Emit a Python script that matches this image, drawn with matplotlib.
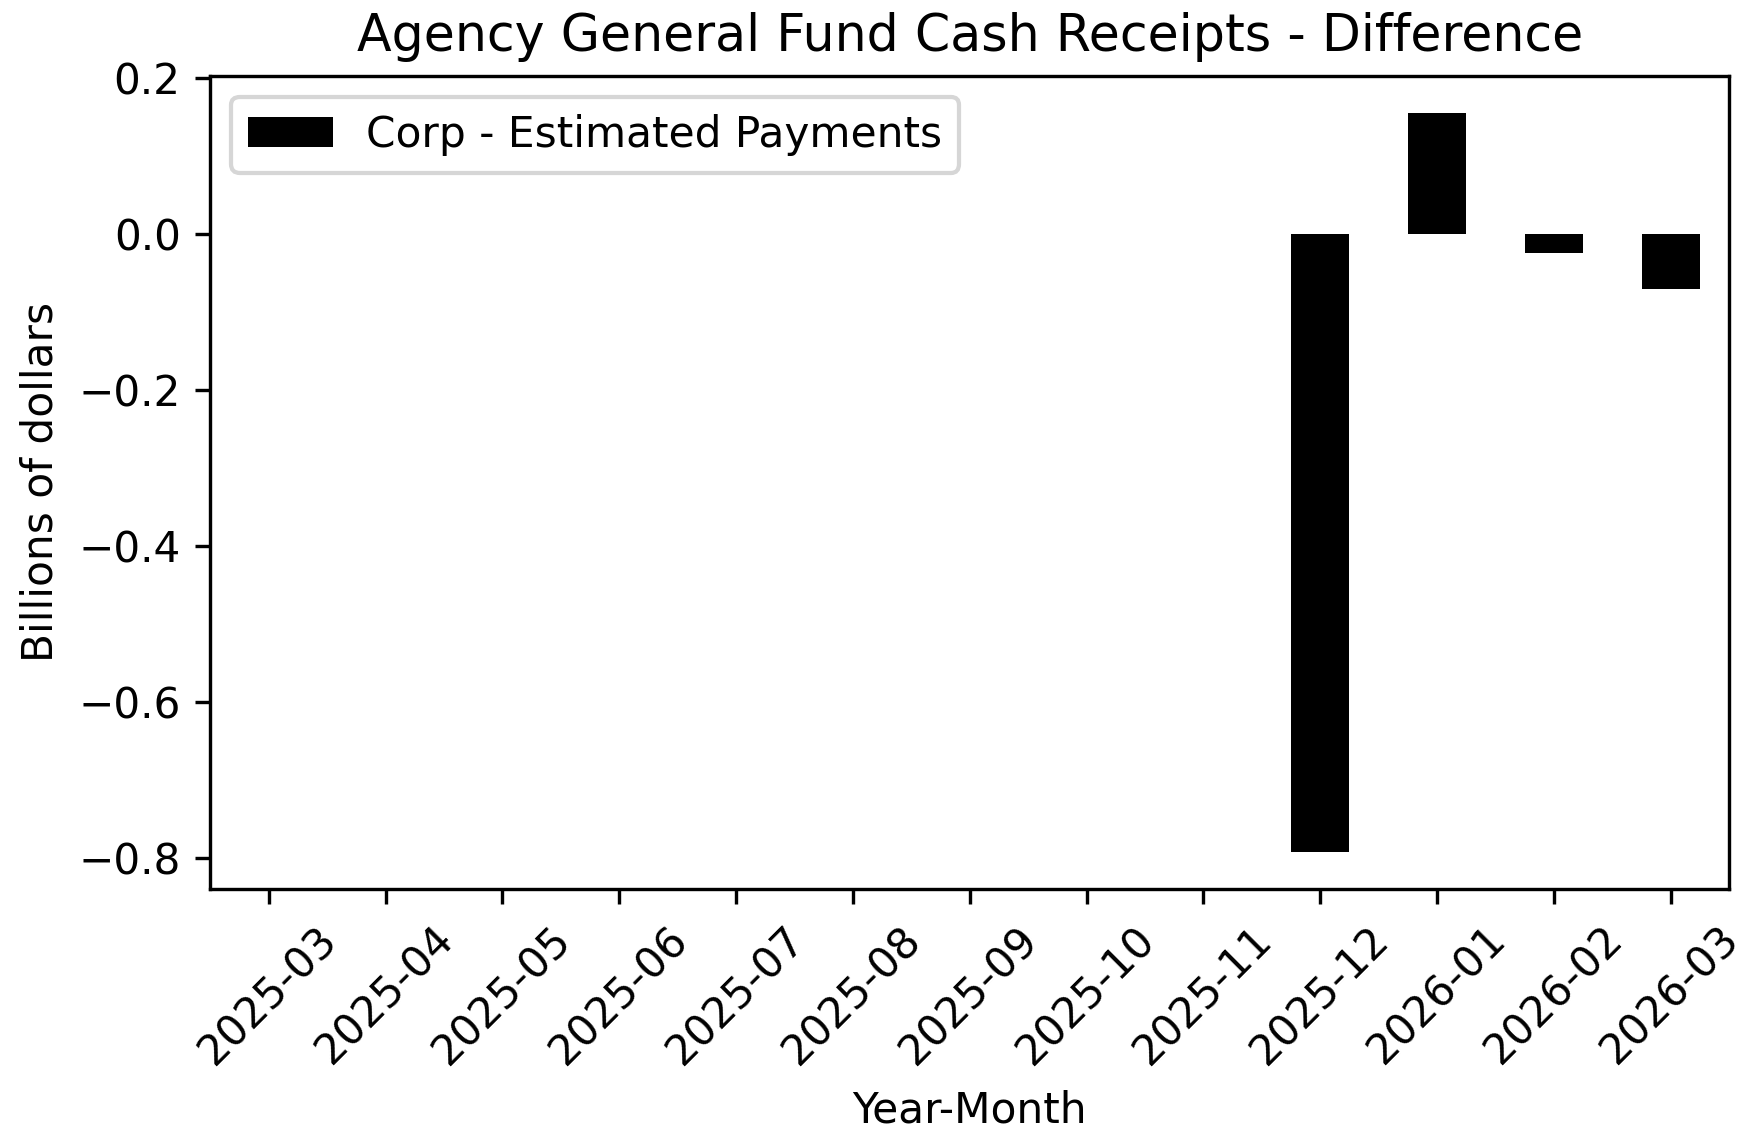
import matplotlib
matplotlib.use("Agg")
import matplotlib.pyplot as plt
import pandas as pd

months = ["2025-03", "2025-04", "2025-05", "2025-06", "2025-07", "2025-08", "2025-09",
          "2025-10", "2025-11", "2025-12", "2026-01", "2026-02", "2026-03"]
corp_estimated = [0.0, 0.0, 0.0, 0.0, 0.0, 0.0, 0.0, 0.0, 0.0, -0.7915, 0.156, -0.0235, -0.0706]

df = pd.DataFrame({"Corp - Estimated Payments": corp_estimated}, index=months)

DPI = 304
fig, ax = plt.subplots(figsize=(1752 / DPI, 1132 / DPI), dpi=DPI)
df.plot(kind="bar", ax=ax, color="black")
ax.set_title("Agency General Fund Cash Receipts - Difference")
ax.set_xlabel("Year-Month")
ax.set_ylabel("Billions of dollars")
plt.setp(ax.get_xticklabels(), rotation=45)
ax.legend(loc="upper left")
fig.subplots_adjust(left=0.12, right=0.987, top=0.933, bottom=0.215)
fig.savefig("out.png", dpi=DPI)
